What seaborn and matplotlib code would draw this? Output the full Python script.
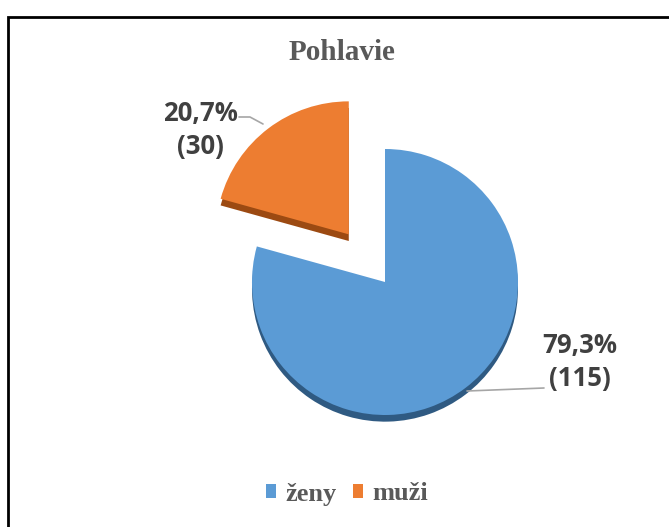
import matplotlib
matplotlib.use("Agg")
import matplotlib.pyplot as plt
from matplotlib.patches import Rectangle
import seaborn as sns

# ---- data ----
categories = ["ženy", "muži"]
counts = [115, 30]
percent_labels = ["79,3%", "20,7%"]
title = "Pohlavie"

sns.set_style("white")
colors = sns.color_palette(["#5B9BD5", "#ED7D31"])
dark_colors = sns.color_palette(["#2F5A82", "#9C4A12"])

W, H = 669, 527
fig = plt.figure(figsize=(W / 100, H / 100), dpi=100)
ax = fig.add_axes([0, 0, 1, 1])

R_PX = 133.0
CX, CY = 385.0, 282.0
explode = [0, 0.45]

# 3D thickness (shadow) pie drawn first
ax.pie(counts, colors=dark_colors, startangle=90, counterclock=False,
       explode=explode, center=(0, -0.05),
       wedgeprops=dict(linewidth=0))
wedges, _ = ax.pie(counts, colors=colors, startangle=90, counterclock=False,
                   explode=explode, wedgeprops=dict(linewidth=0))

def px(x, y):
    return ((x - CX) / R_PX, (CY - y) / R_PX)

ax.set_aspect("auto")
ax.set_xlim((0 - CX) / R_PX, (W - CX) / R_PX)
ax.set_ylim((CY - H) / R_PX, CY / R_PX)
ax.axis("off")

lab_font = dict(family=["Open Sans", "DejaVu Sans"], weight="bold", size=18.5, color="#404040")
# data labels
for i, (pl, c) in enumerate(zip(percent_labels, counts)):
    pos = px(580, 362) if i == 0 else px(200, 130)
    ax.text(pos[0], pos[1], f"{pl}\n({c})", ha="center", va="center",
            linespacing=1.3, **lab_font)

# leader lines
l1a, l1b = px(544, 388), px(467, 391)
ax.plot([l1a[0], l1b[0]], [l1a[1], l1b[1]], color="#A6A6A6", lw=1.2)
o1, o2, o3 = px(239, 117), px(250, 117), px(263, 124)
ax.plot([o1[0], o2[0], o3[0]], [o1[1], o2[1], o3[1]], color="#A6A6A6", lw=1.2)

fig.text(342 / W, 1 - 52 / H, title, ha="center", va="center",
         family="Liberation Serif", weight="bold", size=21, color="#595959")

leg = ax.legend(wedges, categories, loc="center", bbox_to_anchor=(347 / W, 1 - 494 / H),
                bbox_transform=fig.transFigure, ncol=2, frameon=False,
                handlelength=0.4, handleheight=0.4, handletextpad=0.35,
                columnspacing=0.6,
                prop=dict(family="Liberation Serif", weight="bold", size=19))
for t in leg.get_texts():
    t.set_color("#595959")

fig.add_artist(Rectangle((8 / W, -0.05), 1.2, (H - 17) / H + 0.05, fill=False,
                         edgecolor="black", linewidth=2, transform=fig.transFigure,
                         clip_on=False))

fig.savefig("out.png", dpi=100, facecolor="white")
